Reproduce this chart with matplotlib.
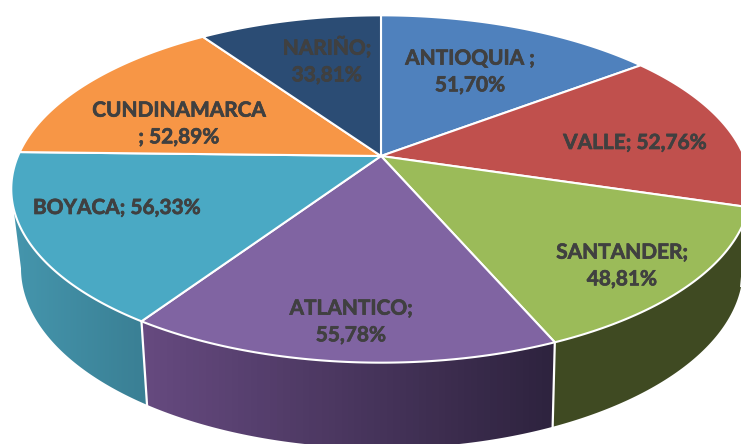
import numpy as np
import matplotlib
matplotlib.use("Agg")
import matplotlib.pyplot as plt
import matplotlib.patheffects as pe
from matplotlib.colors import LinearSegmentedColormap
from matplotlib.patches import Polygon

# Data
names = ["ANTIOQUIA ;", "VALLE;", "SANTANDER;", "ATLANTICO;", "BOYACA;", "CUNDINAMARCA\n;", "NARIÑO;"]
values = [51.70, 52.76, 48.81, 55.78, 56.33, 52.89, 33.81]

top_colors = ["#4f81bd", "#c0504d", "#9bbb59", "#8064a2", "#4aa9c4", "#f79646", "#2b4c74"]
wall_left = ["#3f6797", "#9a403e", "#3f4a22", "#664a80", "#4596ad", "#c67838", "#223d5d"]
wall_right = ["#3f6797", "#9a403e", "#3f4a22", "#2e233e", "#3a7f94", "#c67838", "#223d5d"]

# label centres in pixels, and whether the value goes on its own line
label_pos = [(470, 72), (635, 143), (622, 266), (351, 322), (117, 208), (179, 124), (327, 61)]
label_break = [True, False, True, True, False, False, True]


# Perspective of the pie: circle of unit radius seen from the front
def rim(t, cx, cy, a, b, k=0.196):
    t = np.radians(t)
    d = 1 + k * np.cos(t)
    return cx + a * np.sin(t) / d, cy - b * np.cos(t) / d


def top_rim(t):
    return rim(t, 381, 156, 363, 167.4, k=0.19)


def low_rim(t):
    return rim(t, 382, 233, 354, 173)


fig = plt.figure(figsize=(7.41, 4.44), dpi=100)
ax = fig.add_axes([0, 0, 1, 1])

ends = np.cumsum(values) / np.sum(values) * 360
starts = np.concatenate([[0], ends[:-1]])

# only the front part of the side wall can be seen
front_a, front_b = 101.3, 258.7

for i in range(len(values)):
    t1, t2 = max(starts[i], front_a), min(ends[i], front_b)
    if t2 <= t1:
        continue
    t = np.linspace(t1, t2, 80)
    xt, yt = top_rim(t)
    xb, yb = low_rim(t)
    pts = np.column_stack([np.r_[xt, xb[::-1]], np.r_[yt, yb[::-1]]])
    poly = Polygon(pts, closed=True, fc="none", ec="none")
    ax.add_patch(poly)
    cmap = LinearSegmentedColormap.from_list("w", [wall_right[i], wall_left[i]])
    im = ax.imshow(np.linspace(1, 0, 64)[None, :], cmap=cmap, aspect="auto", vmin=0, vmax=1,
                   extent=[pts[:, 0].min(), pts[:, 0].max(), pts[:, 1].max(), pts[:, 1].min()],
                   zorder=1)
    im.set_clip_path(poly)

# white seams between the walls
for e in ends:
    if front_a < e < front_b:
        xt, yt = top_rim(e)
        xb, yb = low_rim(e)
        ax.plot([xt, xb], [yt, yb], color="white", lw=1.6, zorder=2)

# top faces
for i in range(len(values)):
    t = np.linspace(starts[i], ends[i], 120)
    x, y = top_rim(t)
    ax.fill(np.r_[381, x], np.r_[156, y], fc=top_colors[i], ec="white", lw=1.5,
            joinstyle="round", zorder=3)

for i in range(len(values)):
    val = f"{values[i]:.2f}".replace(".", ",") + "%"
    sep = "\n" if label_break[i] else " "
    if names[i].endswith("\n;"):
        txt = names[i] + " " + val
    else:
        txt = names[i] + sep + val
    t = ax.text(label_pos[i][0], label_pos[i][1], txt, ha="center", va="center", ma="center",
                family="Lato", weight="bold", fontsize=15, color="#404040",
                linespacing=1.42, zorder=4)
    t.set_path_effects([pe.withStroke(linewidth=0.5, foreground="#404040")])

ax.set_xlim(0, 741)
ax.set_ylim(444, 0)
ax.axis("off")

fig.savefig("out.png", dpi=100)
